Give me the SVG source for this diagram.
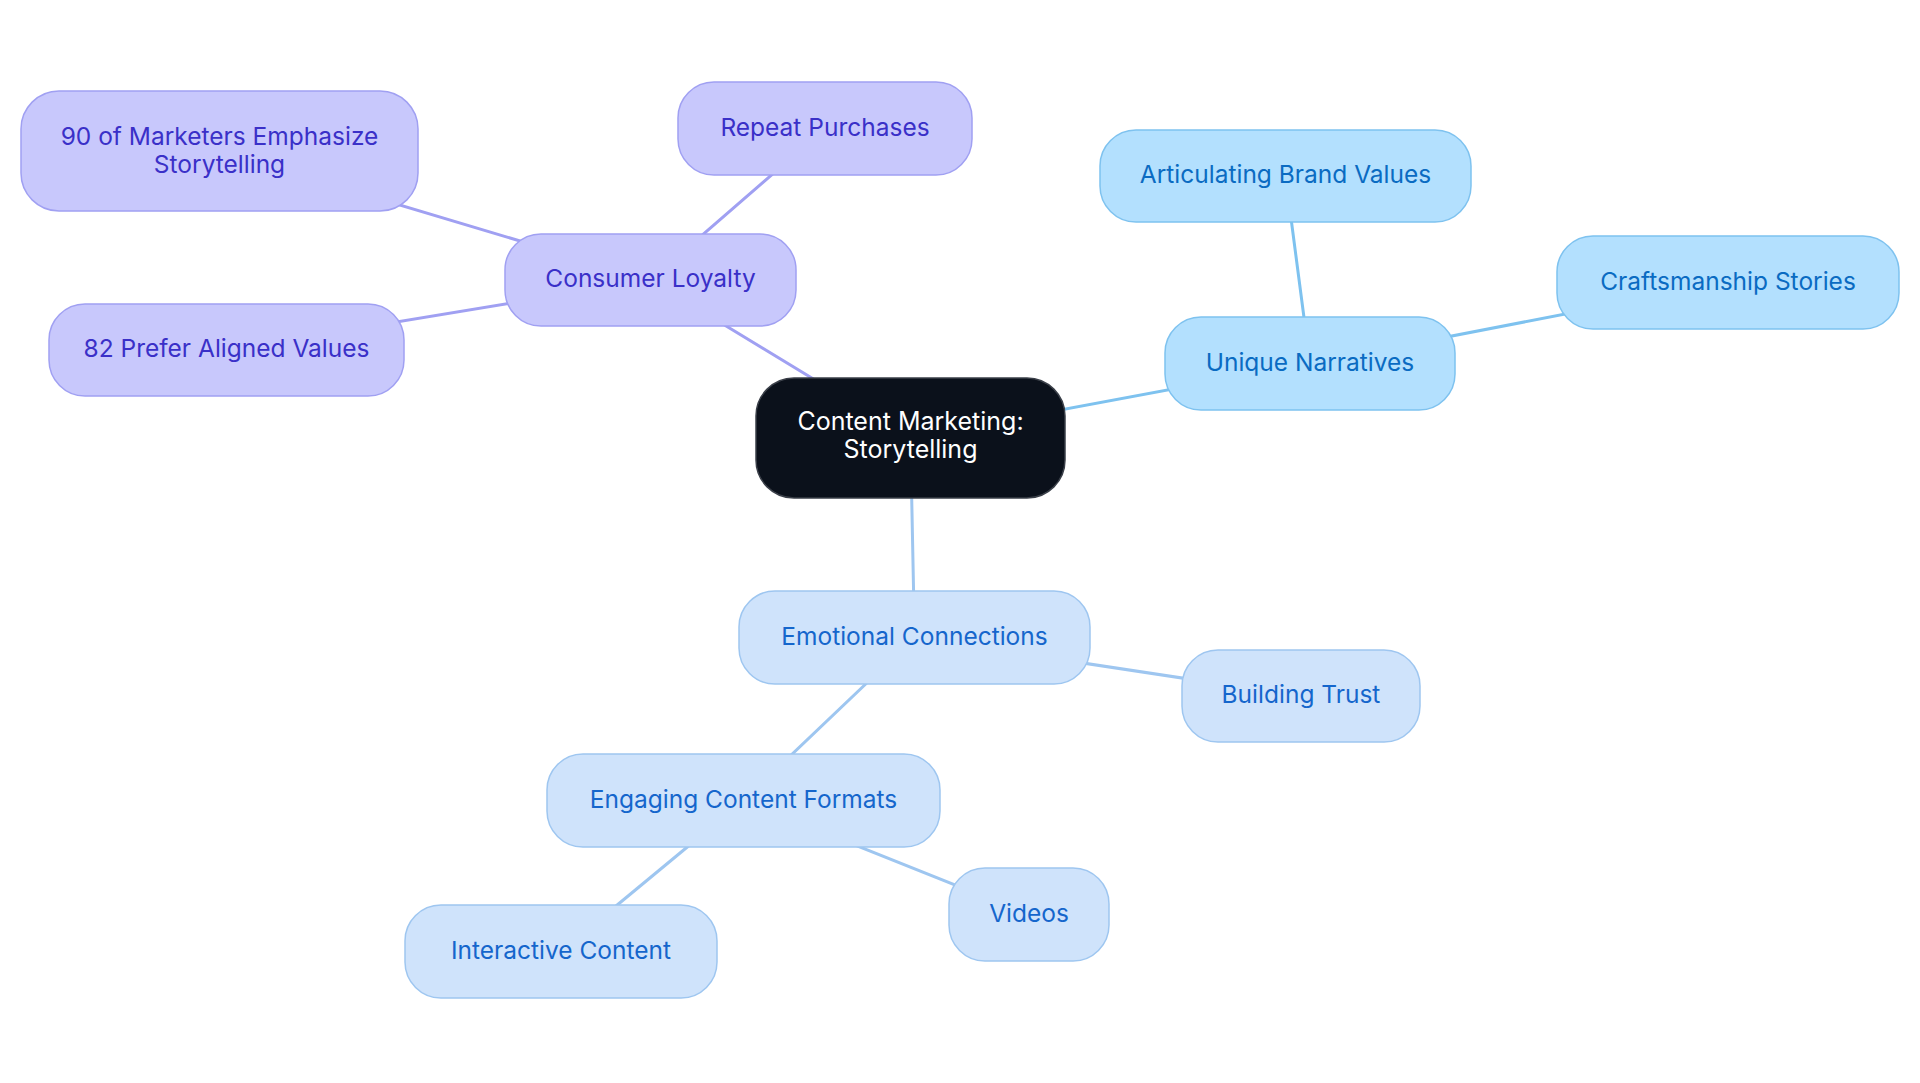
<svg xmlns="http://www.w3.org/2000/svg" width="1920" height="1083" viewBox="0 0 1920 1083">
<style>
text{font-family:Inter,"Noto Sans","Liberation Sans",sans-serif;font-size:24.5px;text-anchor:middle}
.edge{stroke-width:3;stroke-linecap:round;fill:none}
.pe{stroke:#a0a0f2}
.be{stroke:#7ec2ef}
.ee{stroke:#9ec6f0}
.p rect{fill:#c8c8fc;stroke:#a0a0f2;stroke-width:1.5}
.p text{fill:#3a30c8}
.b rect{fill:#b3e0fe;stroke:#7ec2ef;stroke-width:1.5}
.b text{fill:#0a6bc2}
.e rect{fill:#cfe3fb;stroke:#9ec6f0;stroke-width:1.5}
.e text{fill:#1566cc}
.c rect{fill:#0b111b;stroke:#3a3f48;stroke-width:1.5}
.c text{fill:#ffffff;font-size:25px}
</style>
<rect width="1920" height="1083" fill="#ffffff"/>
<g id="connectors">
<line class="edge pe" x1="910.5" y1="438" x2="650.5" y2="280"/>
<line class="edge pe" x1="650.5" y1="280" x2="219.5" y2="151"/>
<line class="edge pe" x1="650.5" y1="280" x2="825" y2="128.5"/>
<line class="edge pe" x1="650.5" y1="280" x2="226.5" y2="350"/>
<line class="edge be" x1="910.5" y1="438" x2="1310" y2="363.5"/>
<line class="edge be" x1="1310" y1="363.5" x2="1285.5" y2="176"/>
<line class="edge be" x1="1310" y1="363.5" x2="1728" y2="282.5"/>
<line class="edge ee" x1="910.5" y1="438" x2="914.5" y2="637.5"/>
<line class="edge ee" x1="914.5" y1="637.5" x2="1301" y2="696"/>
<line class="edge ee" x1="914.5" y1="637.5" x2="743.5" y2="800.5"/>
<line class="edge ee" x1="743.5" y1="800.5" x2="1029" y2="914.5"/>
<line class="edge ee" x1="743.5" y1="800.5" x2="561" y2="951.5"/>
</g>
<g id="node-central" class="c">
<rect x="756" y="378" width="309" height="120" rx="38"/>
<text x="910.5" y="430">Content Marketing:</text>
<text x="910.5" y="458">Storytelling</text>
</g>
<g id="node-consumer-loyalty" class="p">
<rect x="505" y="234" width="291" height="92" rx="36"/>
<text x="650.5" y="287">Consumer Loyalty</text>
</g>
<g id="node-90-marketers" class="p">
<rect x="21" y="91" width="397" height="120" rx="38"/>
<text x="219.5" y="144.5">90 of Marketers Emphasize</text>
<text x="219.5" y="172.5">Storytelling</text>
</g>
<g id="node-repeat-purchases" class="p">
<rect x="678" y="82" width="294" height="93" rx="36"/>
<text x="825" y="135.5">Repeat Purchases</text>
</g>
<g id="node-82-prefer" class="p">
<rect x="49" y="304" width="355" height="92" rx="36"/>
<text x="226.5" y="357">82 Prefer Aligned Values</text>
</g>
<g id="node-unique-narratives" class="b">
<rect x="1165" y="317" width="290" height="93" rx="36"/>
<text x="1310" y="370.5">Unique Narratives</text>
</g>
<g id="node-articulating" class="b">
<rect x="1100" y="130" width="371" height="92" rx="36"/>
<text x="1285.5" y="183">Articulating Brand Values</text>
</g>
<g id="node-craftsmanship" class="b">
<rect x="1557" y="236" width="342" height="93" rx="36"/>
<text x="1728" y="289.5">Craftsmanship Stories</text>
</g>
<g id="node-emotional" class="e">
<rect x="739" y="591" width="351" height="93" rx="36"/>
<text x="914.5" y="644.5">Emotional Connections</text>
</g>
<g id="node-building-trust" class="e">
<rect x="1182" y="650" width="238" height="92" rx="36"/>
<text x="1301" y="703">Building Trust</text>
</g>
<g id="node-engaging" class="e">
<rect x="547" y="754" width="393" height="93" rx="36"/>
<text x="743.5" y="807.5">Engaging Content Formats</text>
</g>
<g id="node-videos" class="e">
<rect x="949" y="868" width="160" height="93" rx="36"/>
<text x="1029" y="921.5">Videos</text>
</g>
<g id="node-interactive" class="e">
<rect x="405" y="905" width="312" height="93" rx="36"/>
<text x="561" y="958.5">Interactive Content</text>
</g>
</svg>
